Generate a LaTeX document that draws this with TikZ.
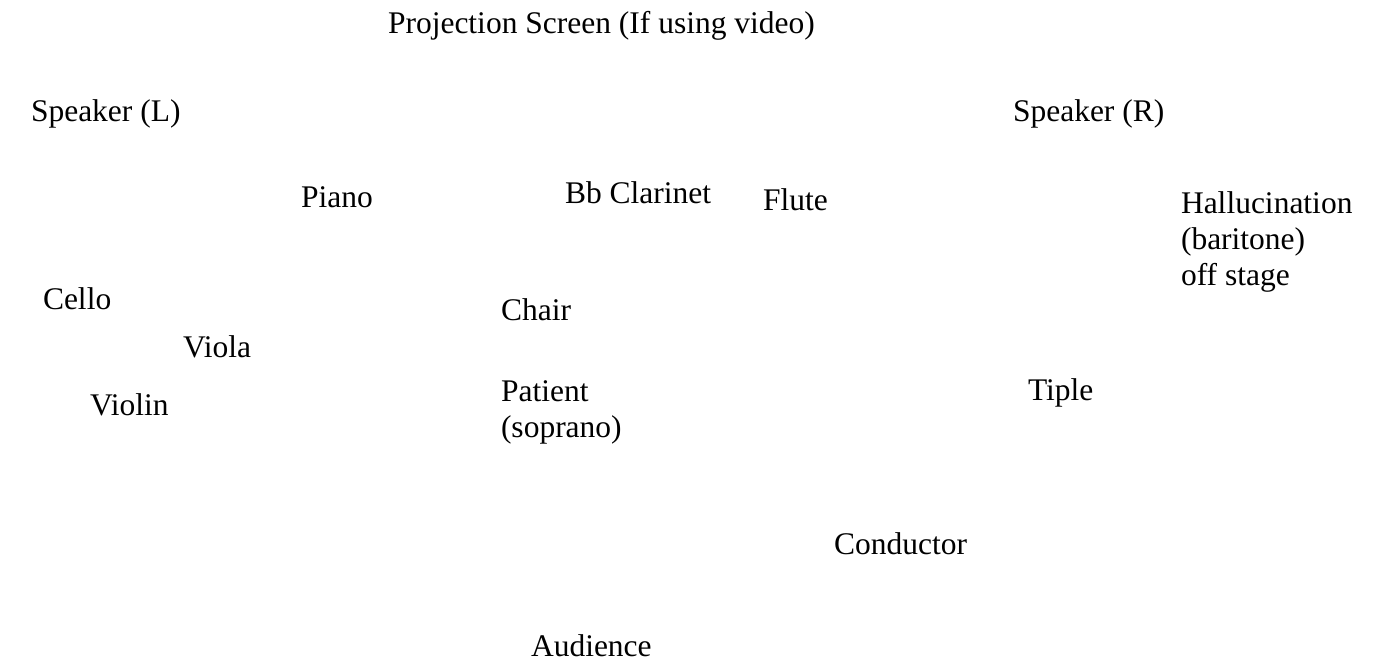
\documentclass[tikz,border=0pt]{standalone}
\usepackage{fontspec}
\setmainfont{Liberation Serif}
\begin{document}
\begin{tikzpicture}[x=1pt,y=-1pt,
  lbl/.style={anchor=base west,inner sep=0pt,outer sep=0pt,align=left,
    font=\fontsize{31.5}{36}\selectfont}]
\useasboundingbox[fill=white] (0,0) rectangle (1391,662);
\node[lbl] (screen) at (388,33) {Projection Screen (If using video)};
\node[lbl] (spkL) at (31,121) {Speaker (L)};
\node[lbl] (spkR) at (1013,121) {Speaker (R)};
\node[lbl] (piano) at (301,207) {Piano};
\node[lbl] (clar) at (565,203) {Bb Clarinet};
\node[lbl] (flute) at (763,210) {Flute};
\node[lbl] (hall) at (1181,285) {Hallucination\\(baritone)\\off stage};
\node[lbl] (cello) at (43,309) {Cello};
\node[lbl] (chair) at (501,320) {Chair};
\node[lbl] (viola) at (183,357) {Viola};
\node[lbl] (tiple) at (1028,400) {Tiple};
\node[lbl] (violin) at (90,415) {Violin};
\node[lbl] (patient) at (501,437) {Patient\\(soprano)};
\node[lbl] (cond) at (834,554) {Conductor};
\node[lbl] (aud) at (531,656) {Audience};
\end{tikzpicture}
\end{document}
